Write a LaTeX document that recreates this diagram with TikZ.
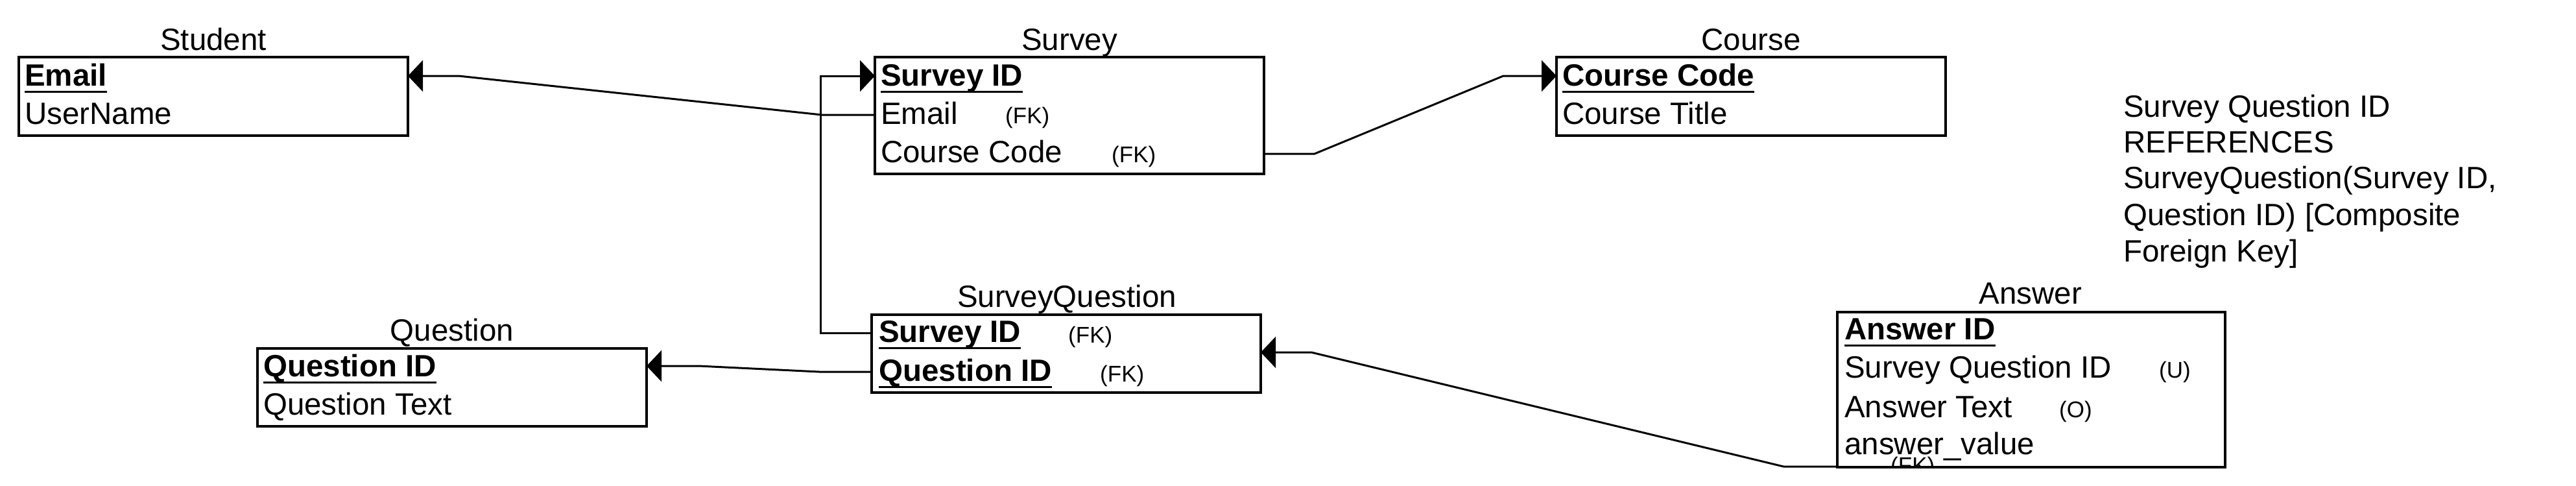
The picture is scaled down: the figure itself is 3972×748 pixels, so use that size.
\documentclass[tikz,border=0pt]{standalone}
\usepackage{fontspec}
\setmainfont{Liberation Sans}
\usetikzlibrary{arrows.meta}
\newcommand\pkey[1]{\setbox0\hbox{\bfseries #1}\rlap{\rule[-10.5pt]{\wd0}{3pt}}\box0}
\begin{document}
\begin{tikzpicture}[x=1pt,y=-1pt,
  tbl/.style={draw, line width=3.2pt, inner sep=0pt, outer sep=0pt, anchor=north west, minimum width=600pt},
  row/.style={anchor=base west, inner sep=0pt, font=\fontsize{47.5}{56}\selectfont},
  ttl/.style={anchor=base, inner sep=0pt, font=\fontsize{47.5}{56}\selectfont},
  tag/.style={anchor=base west, inner sep=0pt, font=\fontsize{35}{40}\selectfont},
  conn/.style={line width=3pt, line join=miter},
  ref/.style={conn, -{Triangle[length=23pt,width=48pt]}},
]
\useasboundingbox (0,0) rectangle (3972,748);

% ---- tables ----
\node[tbl, minimum height=121pt] (student) at (29,88) {};
\node[tbl, minimum height=180pt] (survey) at (1349,88) {};
\node[tbl, minimum height=121pt] (course) at (2400,88) {};
\node[tbl, minimum height=120pt] (question) at (397,537) {};
\node[tbl, minimum height=120pt] (sq) at (1344,485) {};
\node[tbl, minimum height=239pt, minimum width=598pt] (answer) at (2833,481) {};

% ---- titles ----
\node[ttl] (studentT) at (329,77) {Student};
\node[ttl] (surveyT) at (1649,77) {Survey};
\node[ttl] (courseT) at (2700,77) {Course};
\node[ttl] (questionT) at (697,525) {Question};
\node[ttl] (sqT) at (1645,473) {SurveyQuestion};
\node[ttl] (answerT) at (3131,468) {Answer};

% ---- rows ----
\node[row] (stuEmail) at (38,132) {\pkey{Email}};
\node[row] (stuUser) at (38,191) {UserName};

\node[row] (svId) at (1358,132) {\pkey{Survey ID}};
\node[row] (svEmail) at (1358,191) {Email};
\node[tag] (svEmailFK) at (1550,190) {(FK)};
\node[row] (svCourse) at (1358,250) {Course Code};
\node[tag] (svCourseFK) at (1714,250) {(FK)};

\node[row] (coCode) at (2409,132) {\pkey{Course Code}};
\node[row] (coTitle) at (2409,191) {Course Title};

\node[row] (quId) at (406,580) {\pkey{Question ID}};
\node[row] (quText) at (406,639) {Question Text};

\node[row] (sqSid) at (1355,527) {\pkey{Survey ID}};
\node[tag] (sqSidFK) at (1647,528) {(FK)};
\node[row] (sqQid) at (1355,587) {\pkey{Question ID}};
\node[tag] (sqQidFK) at (1696,588) {(FK)};

\node[row] (anId) at (2844,523) {\pkey{Answer ID}};
\node[row] (anSq) at (2844,582) {Survey Question ID};
\node[tag] (anSqU) at (3329,582) {(U)};
\node[row] (anText) at (2844,643) {Answer Text};
\node[tag] (anTextO) at (3175,643) {(O)};
\node[row] (anVal) at (2844,700) {answer\_value};
\begin{scope}
  \clip (2833,0) rectangle (3431,719);
  \node[tag] (anValFK) at (2915,729) {(FK)};
\end{scope}

% ---- note ----
\node[row] (note1) at (3274,180) {Survey Question ID};
\node[row] (note2) at (3274,235) {REFERENCES};
\node[row] (note3) at (3274,290) {SurveyQuestion(Survey ID,};
\node[row] (note4) at (3274,347) {Question ID) [Composite};
\node[row] (note5) at (3274,403) {Foreign Key]};

% ---- ports ----
\coordinate (stuPK) at ([yshift=-29pt]student.north east);
\coordinate (svPK) at ([yshift=-29pt]survey.north west);
\coordinate (svEmailP) at ([yshift=-89pt]survey.north west);
\coordinate (svCourseP) at ([yshift=-149pt]survey.north east);
\coordinate (coPK) at ([yshift=-29pt]course.north west);
\coordinate (quPK) at ([yshift=-27pt]question.north east);
\coordinate (sqSidP) at ([yshift=-28pt]sq.north west);
\coordinate (sqQidP) at ([yshift=-88pt]sq.north west);
\coordinate (sqPK) at ([yshift=-58pt]sq.north east);
\coordinate (anSqP) at ([yshift=1pt]answer.south west);

% ---- connectors ----
\draw[ref] (svEmailP) -- (1267,177) -- (707,117) -- (stuPK);
\draw[ref] (sqSidP) -- (1265,513) -- (1265,117) -- (svPK);
\draw[ref] (svCourseP) -- (2027,237) -- (2318,117) -- (coPK);
\draw[ref] (sqQidP) -- (1263,573) -- (1077,564) -- (quPK);
\draw[ref] (anSqP) -- (2750,719) -- (2022,543) -- (sqPK);
\end{tikzpicture}
\end{document}
